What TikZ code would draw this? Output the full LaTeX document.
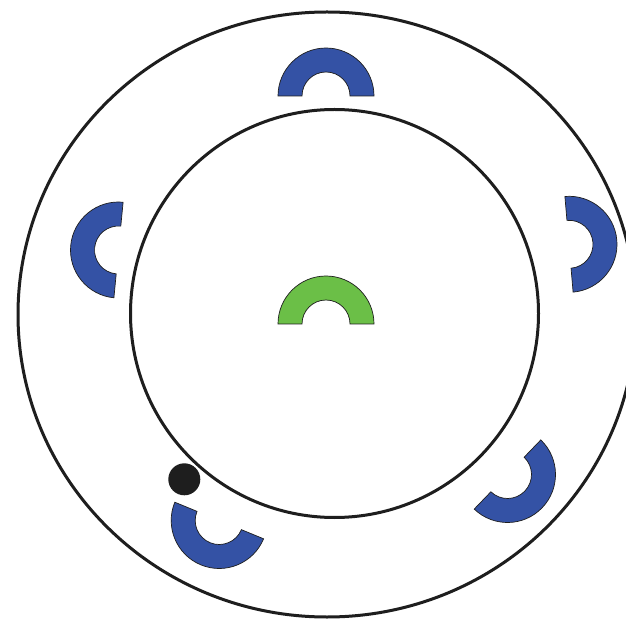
\documentclass[tikz,border=0pt]{standalone}
\definecolor{ringblue}{HTML}{3452A5}
\definecolor{ringgreen}{HTML}{6BBF47}
\definecolor{ink}{HTML}{1E1E1E}
\tikzset{
  bigring/.style={draw=ink, line width=3pt},
  halfring/.style={draw=ink, line width=0.7pt, line join=miter},
}
\newcommand{\halfringat}[4]{%
  \begin{scope}[shift={(#1,#2)}, rotate=#3]
    \filldraw[halfring, fill=#4] (-90:48) arc[start angle=-90, end angle=90, radius=48]
      -- (90:24) arc[start angle=90, end angle=-90, radius=24] -- cycle;
  \end{scope}}
\begin{document}
\begin{tikzpicture}[x=1pt,y=1pt]
  \useasboundingbox (0,0) rectangle (626,619);
  \clip (0,0) rectangle (626,619);
  \fill[white] (0,0) rectangle (626,619);
  % outer ring
  \draw[bigring] (327,304.5) ellipse[x radius=309, y radius=302.5];
  % inner circle
  \draw[bigring] (334.5,305.5) circle[radius=204];
  % half rings
  \halfringat{326}{523}{90}{ringblue}
  \halfringat{118.5}{369}{174.5}{ringblue}
  \halfringat{569}{374.7}{4.9}{ringblue}
  \halfringat{507.5}{144.5}{-43.9}{ringblue}
  \halfringat{219.2}{98.5}{247.6}{ringblue}
  \halfringat{326}{295}{90}{ringgreen}
  % black dot
  \fill[ink] (184.3,139.7) circle[radius=16];
\end{tikzpicture}
\end{document}
